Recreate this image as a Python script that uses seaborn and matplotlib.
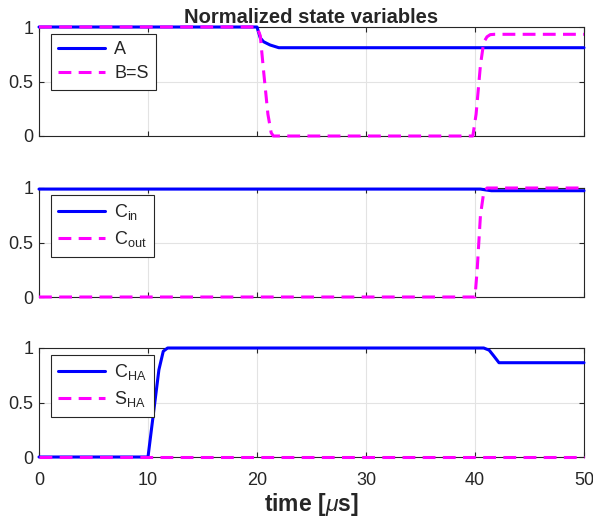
import matplotlib
matplotlib.use("Agg")
import matplotlib.pyplot as plt
import seaborn as sns
import pandas as pd

# panel 1: A and B=S
t_a = [0, 20.0, 20.3, 20.6, 21.2, 22.0, 50]
a = [1, 1, 0.90, 0.865, 0.835, 0.81, 0.81]
t_b = [0, 20.0, 20.3, 20.6, 21.0, 21.3, 21.5, 39.8, 40.1, 40.5, 40.8, 41.1, 41.4, 41.8, 50]
b = [1, 1, 0.92, 0.6, 0.2, 0.03, 0, 0, 0.2, 0.65, 0.86, 0.91, 0.93, 0.933, 0.933]

# panel 2: C_in and C_out
t_cin = [0, 40.5, 41.0, 41.5, 50]
c_in = [0.99, 0.99, 0.982, 0.975, 0.975]
t_cout = [0, 40.0, 40.2, 40.5, 40.8, 41.1, 50]
c_out = [0, 0, 0.25, 0.75, 0.96, 1.0, 1.0]

# panel 3: C_HA and S_HA
t_cha = [0, 10.0, 10.5, 11.0, 11.4, 11.8, 40.8, 41.3, 41.7, 42.2, 50]
c_ha = [0, 0, 0.4, 0.8, 0.97, 1.0, 1.0, 0.98, 0.93, 0.865, 0.865]
t_sha = [0, 50]
s_ha = [0, 0]

panels = [
    [("A", t_a, a), ("B=S", t_b, b)],
    [("C$_\\mathregular{in}$", t_cin, c_in), ("C$_\\mathregular{out}$", t_cout, c_out)],
    [("C$_\\mathregular{HA}$", t_cha, c_ha), ("S$_\\mathregular{HA}$", t_sha, s_ha)],
]

sns.set_style("ticks")
plt.rcParams["font.family"] = ["Liberation Sans", "DejaVu Sans"]
plt.rcParams["mathtext.fontset"] = "custom"
plt.rcParams["mathtext.rm"] = "Liberation Sans"
plt.rcParams["mathtext.it"] = "Liberation Sans:italic"

fig = plt.figure(figsize=(5.93, 5.22), dpi=100)
L, R = 39 / 593, 584 / 593
tops = [27, 188, 348]
h = 109
axes = [fig.add_axes([L, 1 - (tp + h) / 522, R - L, h / 522]) for tp in tops]

blue = "#0000ff"
mag = "#ff00ff"
for i, (ax, series) in enumerate(zip(axes, panels)):
    (n1, x1, y1), (n2, x2, y2) = series
    df1 = pd.DataFrame({"t": x1, "v": y1})
    df2 = pd.DataFrame({"t": x2, "v": y2})
    sns.lineplot(data=df1, x="t", y="v", ax=ax, color=blue, lw=2.2,
                 estimator=None, label=n1, clip_on=False, zorder=3)
    sns.lineplot(data=df2, x="t", y="v", ax=ax, color=mag, lw=2.2,
                 estimator=None, label=n2, clip_on=False, zorder=3.1)
    ax.lines[-1].set_dashes([4.2, 2.4])
    ax.set_xlim(0, 50)
    ax.set_ylim(0, 1)
    ax.set_xticks(range(0, 51, 10))
    ax.set_yticks([0, 0.5, 1])
    ax.set_yticklabels(["0", "0.5", "1"])
    ax.grid(True, color="#e3e3e3", lw=0.8)
    ax.set_axisbelow(True)
    ax.tick_params(direction="in", length=3.5, width=0.8, top=True, right=True,
                   labelsize=13, colors="#262626", pad=4)
    ax.tick_params(axis="x", pad=11)
    for sp in ax.spines.values():
        sp.set_visible(True)
        sp.set_color("#262626")
        sp.set_linewidth(0.8)
    ax.set_xlabel("")
    ax.set_ylabel("")
    if i < 2:
        ax.set_xticklabels([])
    leg = ax.legend(loc="upper left", bbox_to_anchor=(12 / 545, 1 - 7 / 109),
                    borderaxespad=0, fontsize=13, handlelength=2.6,
                    handletextpad=0.5, labelspacing=0.4, borderpad=0.4,
                    fancybox=False, framealpha=1, edgecolor="#262626")
    leg.get_frame().set_linewidth(0.8)
    leg.set_zorder(5)

axes[0].set_title("Normalized state variables", fontsize=14.5, fontweight="bold", pad=3)
axes[2].set_xlabel("time [$\\mu$s]", fontsize=16.5, fontweight="bold", labelpad=1)

fig.savefig("out.png", dpi=100)
